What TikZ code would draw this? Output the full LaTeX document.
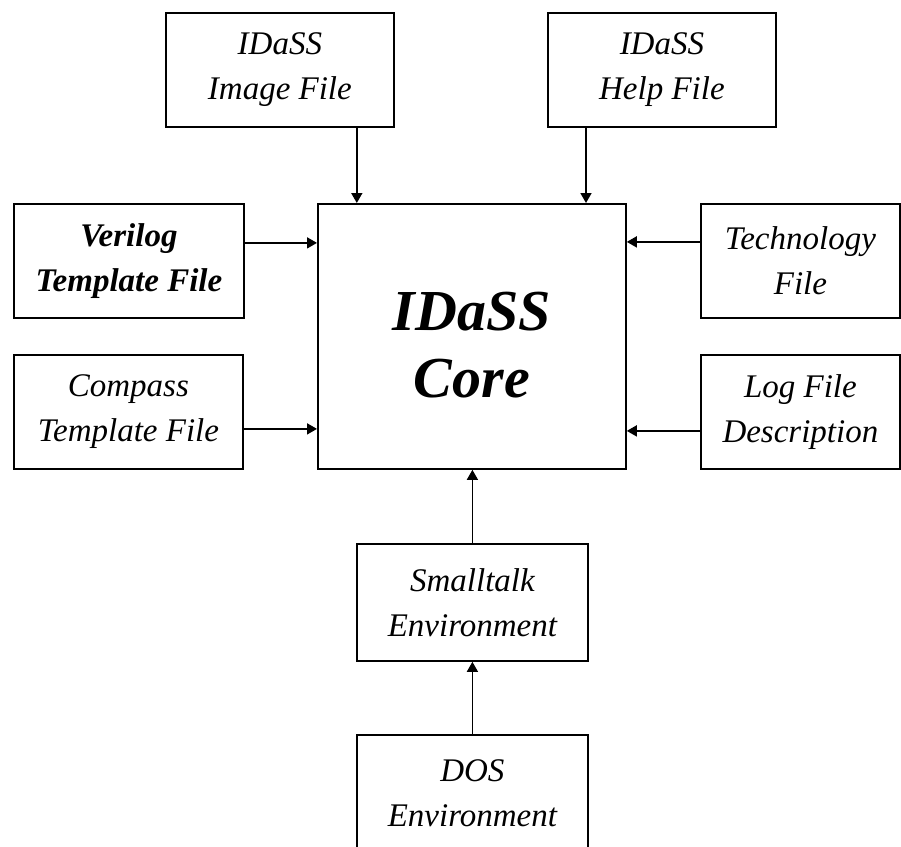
\documentclass[tikz,border=0pt]{standalone}
\usepackage{fontspec}
\setmainfont{Liberation Serif}
\usetikzlibrary{arrows.meta,positioning}

\begin{document}
\begin{tikzpicture}[
        x=1pt, y=-1pt,
        filebox/.style={draw, line width=1.8pt, inner sep=0pt, align=center, anchor=north west,
            minimum width=228pt, minimum height=114pt,
            font=\fontsize{33}{45}\selectfont\itshape},
        feed/.style={line width=1.7pt, -{Triangle[length=10pt,width=11pt]}},
        thinfeed/.style={feed, line width=1.3pt},
    ]
    \useasboundingbox (0,0) rectangle (901,846);
    \clip (0,0) rectangle (901,846);

    % files round the core
    \node[filebox] (image) at (165,12) {IDaSS\\Image File};
    \node[filebox] (help) at (547,12) {IDaSS\\Help File};
    \node[filebox, minimum width=230pt, font=\fontsize{33}{45}\selectfont\bfseries\itshape] (verilog) at (13,203) {Verilog\\Template File};
    \node[filebox, minimum width=229pt] (compass) at (13,354) {Compass\\Template File};
    \node[filebox, minimum width=199pt] (tech) at (700,203) {Technology\\File};
    \node[filebox, minimum width=199pt] (log) at (700,354) {Log File\\Description};
    \node[filebox, minimum width=308pt, minimum height=265pt] (core) at (317,203) {};
    \node[font=\fontsize{58}{67}\selectfont\bfseries\itshape, align=center, yshift=-9pt] (coretext) at (core.center) {IDaSS\\Core};
    \node[filebox, minimum width=231pt, minimum height=117pt] (smalltalk) at (356,543) {Smalltalk\\Environment};
    \node[filebox, minimum width=231pt, minimum height=116pt] (dos) at (356,734) {DOS\\Environment};

    \draw[feed] ([xshift=-38pt]image.south east) -- ([xshift=-38pt]image.south east |- core.north);
    \draw[feed] ([xshift=39pt]help.south west) -- ([xshift=39pt]help.south west |- core.north);
    \draw[feed] ([yshift=18pt]verilog.east) -- ([yshift=18pt]verilog.east -| core.west);
    \draw[feed] ([yshift=-17pt]compass.east) -- ([yshift=-17pt]compass.east -| core.west);
    \draw[feed] ([yshift=19pt]tech.west) -- ([yshift=19pt]tech.west -| core.east);
    \draw[feed] ([yshift=-19pt]log.west) -- ([yshift=-19pt]log.west -| core.east);
    \draw[thinfeed] (smalltalk.north) -- (smalltalk.north |- core.south);
    \draw[thinfeed] (dos.north) -- (smalltalk.south);
\end{tikzpicture}
\end{document}
